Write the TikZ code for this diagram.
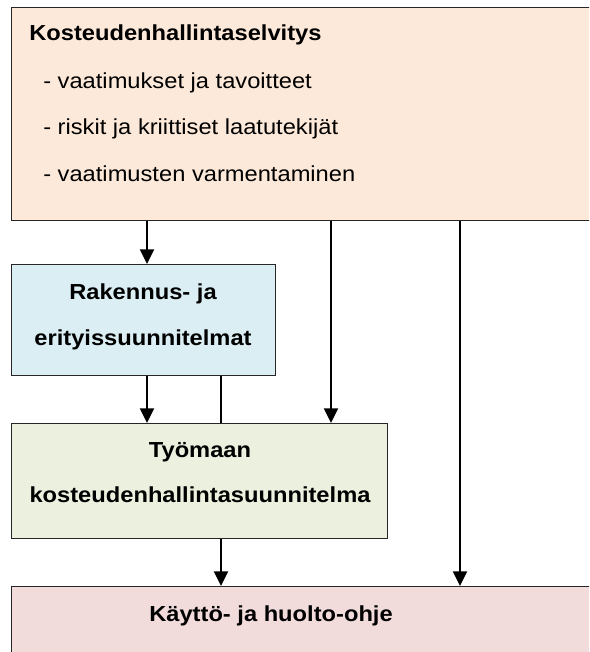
\documentclass[tikz,border=0pt]{standalone}
\usepackage{fontspec}
\setmainfont[FakeStretch=1.09]{Liberation Sans}
\usetikzlibrary{arrows.meta, positioning}

\definecolor{selfill}{HTML}{FDE9D9}
\definecolor{rakfill}{HTML}{DAEEF3}
\definecolor{tyofill}{HTML}{EBF1DE}
\definecolor{kayfill}{HTML}{F2DCDB}

\begin{document}
\begin{tikzpicture}[x=0.75pt, y=-0.75pt,
  box/.style={draw=black!85, line width=0.75pt, rectangle, anchor=north west, inner sep=0pt},
  txt/.style={inner sep=0pt, font=\fontsize{16.3pt}{18pt}\selectfont},
  head/.style={inner sep=0pt, font=\fontsize{16.3pt}{18pt}\selectfont\bfseries},
  flow/.style={line width=1.4pt, -{Triangle[width=10.5pt, length=11pt]}},
  link/.style={line width=1.4pt}]
\useasboundingbox (0,0) rectangle (589,652);
\clip (0,0) rectangle (589,652);

% Boxes
\node[box, fill=selfill, minimum width=450pt, minimum height=159.75pt] (sel) at (11,7) {};
\node[box, fill=rakfill, minimum width=198pt, minimum height=83.25pt] (rak) at (11,264) {};
\node[box, fill=tyofill, minimum width=282pt, minimum height=86.25pt] (tyo) at (11,423) {};
\node[box, fill=kayfill, minimum width=450pt, minimum height=70.5pt] (kay) at (11,586) {};

% Texts
\node[head, anchor=base west] (selhead) at (29,41) {Kosteudenhallintaselvitys};
\node[txt, anchor=base west] (sel1) at (43,89) {- vaatimukset ja tavoitteet};
\node[txt, anchor=base west] (sel2) at (43,135) {- riskit ja kriittiset laatutekijät};
\node[txt, anchor=base west] (sel3) at (43,182) {- vaatimusten varmentaminen};
\node[head, anchor=base] (rak1) at (143,299) {Rakennus- ja};
\node[head, anchor=base] (rak2) at (143,345) {erityissuunnitelmat};
\node[head, anchor=base] (tyo1) at (200,457) {Työmaan};
\node[head, anchor=base] (tyo2) at (200,502) {kosteudenhallintasuunnitelma};
\node[head, anchor=base] (kay1) at (271,621) {Käyttö- ja huolto-ohje};

% Connectors
\draw[flow] (147,0 |- sel.south) -- (147,0 |- rak.north);
\draw[flow] (331,0 |- sel.south) -- (331,0 |- tyo.north);
\draw[flow] (460,0 |- sel.south) -- (460,0 |- kay.north);
\draw[flow] (147,0 |- rak.south) -- (147,0 |- tyo.north);
\draw[link] (221,0 |- rak.south) -- (221,0 |- tyo.north);
\draw[flow] (221,0 |- tyo.south) -- (221,0 |- kay.north);
\end{tikzpicture}
\end{document}
